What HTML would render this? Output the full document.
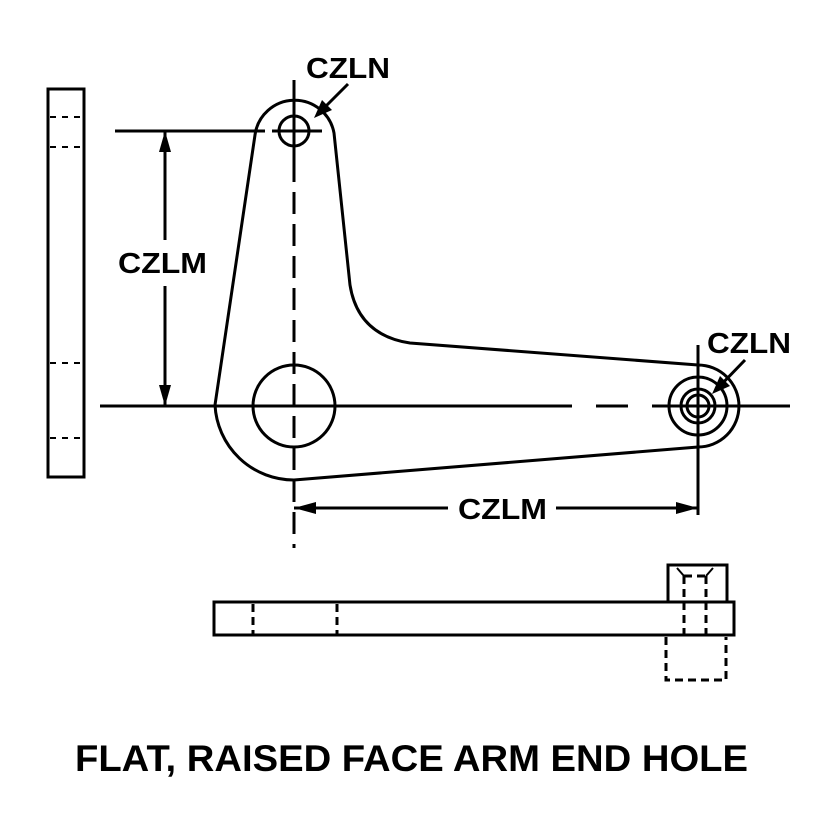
<!DOCTYPE html>
<html><head><style>body{margin:0;background:#fff}svg{display:block}</style></head><body>
<svg width="840" height="840" viewBox="0 0 840 840" xmlns="http://www.w3.org/2000/svg">
<g fill="none" stroke="#000" stroke-width="3">
<rect x="48" y="89" width="36" height="388"/>
<g stroke-dasharray="6,6" stroke-width="2">
<line x1="50" y1="117" x2="82" y2="117"/><line x1="50" y1="147" x2="82" y2="147"/>
<line x1="50" y1="363" x2="82" y2="363"/><line x1="50" y1="438" x2="82" y2="438"/>
</g>
<path d="M255,135 A40,40 0 0 1 334,133 L350,285 Q358,335 410,343 L698,365 A41,41 0 0 1 698,447 L294,480 A79,79 0 0 1 215,405 Z"/>
<circle cx="294" cy="131" r="15"/>
<circle cx="294" cy="406" r="41"/>
<circle cx="698" cy="406" r="29"/>
<circle cx="698" cy="406" r="17"/>
<circle cx="698" cy="406" r="11"/>
<line x1="100" y1="406" x2="572" y2="406"/>
<line x1="596" y1="406" x2="628" y2="406"/>
<line x1="652" y1="406" x2="790" y2="406"/>
<line x1="115" y1="131" x2="265" y2="131"/>
<line x1="272" y1="131" x2="322" y2="131"/>
<line x1="294" y1="80" x2="294" y2="160"/>
<line x1="294" y1="160" x2="294" y2="548" stroke-dasharray="22,10"/>
<line x1="698" y1="345" x2="698" y2="515"/>
<line x1="165" y1="131" x2="165" y2="240"/>
<line x1="165" y1="286" x2="165" y2="406"/>
<line x1="294" y1="508" x2="448" y2="508"/>
<line x1="556" y1="508" x2="698" y2="508"/>
<line x1="348" y1="84" x2="318" y2="114"/>
<line x1="745" y1="360" x2="716" y2="390"/>
<rect x="214" y="602" width="520" height="33"/>
<path d="M668,602 V565 H727 V602"/>
<g stroke-dasharray="8,5" stroke-width="3">
<line x1="253" y1="604" x2="253" y2="635"/><line x1="337" y1="604" x2="337" y2="635"/>
<line x1="684" y1="576" x2="684" y2="635"/><line x1="706" y1="576" x2="706" y2="635"/>
<path d="M666,637 V680 H726 V637"/>
<line x1="684" y1="576" x2="706" y2="576"/>
</g>
<path d="M677,568 L684,576 M713,568 L706,576" stroke-width="2"/>
</g>
<g fill="#000">
<polygon points="165,131 159,152 171,152"/>
<polygon points="165,406 159,385 171,385"/>
<polygon points="294,508 316,502 316,514"/>
<polygon points="698,508 676,502 676,514"/>
<polygon points="314,118 322,100 332,110"/>
<polygon points="712,394 720,376 730,386"/>
</g>
<g font-family="Liberation Sans, sans-serif" font-weight="bold" fill="#000">
<text x="306" y="78" font-size="29" textLength="84" lengthAdjust="spacingAndGlyphs">CZLN</text>
<text x="707" y="353" font-size="29" textLength="84" lengthAdjust="spacingAndGlyphs">CZLN</text>
<text x="118" y="273" font-size="29" textLength="89" lengthAdjust="spacingAndGlyphs">CZLM</text>
<text x="458" y="519" font-size="29" textLength="89" lengthAdjust="spacingAndGlyphs">CZLM</text>
<text x="75" y="771" font-size="37" textLength="673" lengthAdjust="spacingAndGlyphs">FLAT, RAISED FACE ARM END HOLE</text>
</g>
</svg>
</body></html>
